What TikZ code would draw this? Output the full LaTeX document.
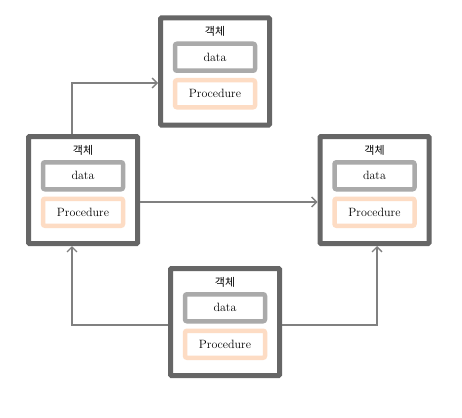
\documentclass[tikz,border=0pt]{standalone}
\usepackage{fontspec}
\newfontfamily\krfont{Noto Sans CJK KR}
\usetikzlibrary{arrows.meta,positioning}
\definecolor{boxgray}{HTML}{666666}
\definecolor{datagray}{HTML}{AAAAAA}
\definecolor{procpeach}{HTML}{FDDCC4}
\definecolor{linegray}{HTML}{808080}

\begin{document}
\begin{tikzpicture}[
    x=1pt, y=-1pt,
    object/.style={draw=boxgray, fill=white, line width=5pt, rounded corners=1pt, minimum width=109pt, minimum height=107pt, inner sep=0pt},
    title/.style={font=\fontsize{11}{12}\selectfont\krfont, minimum height=12pt, inner sep=0pt},
    databox/.style={draw=datagray, line width=4.5pt, rounded corners=2pt, minimum width=80pt, minimum height=27pt, inner sep=0pt, font=\fontsize{12}{14}\selectfont},
    procbox/.style={databox, draw=procpeach},
    arrow/.style={-{Straight Barb[length=5pt,width=10pt]}, line width=1.3pt, draw=linegray}
]
\useasboundingbox (0,0) rectangle (462,417);

% objects
\node[object] (top) at (215,71.5) {};
\node[object] (left) at (83,190) {};
\node[object] (right) at (374.5,190) {};
\node[object] (bottom) at (225,322) {};

% contents of each object
\node[title, below=10pt of top.north] (toptitle) {객체};
\node[databox, below=26pt of top.north] (topdata) {data};
\node[procbox, below=5pt of topdata] (topproc) {Procedure};

\node[title, below=10pt of left.north] (lefttitle) {객체};
\node[databox, below=26pt of left.north] (leftdata) {data};
\node[procbox, below=5pt of leftdata] (leftproc) {Procedure};

\node[title, below=10pt of right.north] (righttitle) {객체};
\node[databox, below=26pt of right.north] (rightdata) {data};
\node[procbox, below=5pt of rightdata] (rightproc) {Procedure};

\node[title, below=10pt of bottom.north] (bottomtitle) {객체};
\node[databox, below=26pt of bottom.north] (bottomdata) {data};
\node[procbox, below=5pt of bottomdata] (bottomproc) {Procedure};

% messages
\draw[arrow] ([xshift=-11pt]left.north) |- ([yshift=-11.5pt]top.west);
\draw[arrow] ([yshift=-12pt]left.east) -- ([yshift=-12pt]right.west);
\draw[arrow] ([yshift=-3pt]bottom.west) -| ([xshift=-11pt]left.south);
\draw[arrow] ([yshift=-3pt]bottom.east) -| ([xshift=2.5pt]right.south);

\end{tikzpicture}
\end{document}
